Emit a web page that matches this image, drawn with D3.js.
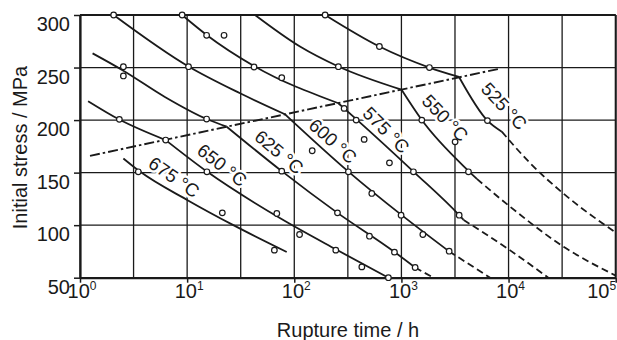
<!DOCTYPE html>
<head>
  <meta charset="utf-8">
  <script src="https://d3js.org/d3.v7.min.js"></script>
  <style>
    body { margin:0; background:#fff; }
    text { font-family: "Liberation Sans", Arial, sans-serif; fill:#1a1a1a; }
  </style>
</head>

<body>
  <script>
// rupture time [h], stress [MPa]
const yTicks = [50, 100, 150, 200, 250, 300];
const xTicks = [1, 10, 100, 1000, 10000, 100000];
const gridX = [1, 3.162, 10, 31.62, 100, 316.2, 1000, 3162, 10000, 31620, 100000];

const dashDotLine = [[1.24, 166], [8350, 249]];

const c525upper = [[194, 300], [623, 270], [1825, 250], [3450, 241]];
const c525lower = [[3450, 241], [6350, 199.5], [8650, 189]];
const c525dash = [[8650, 189], [15900, 159], [32600, 130], [100000, 93]];

const c550upper = [[43, 300], [113, 270], [258, 251], [1000, 229]];
const c550lower = [[1000, 229], [1550, 200], [4290, 151], [5060, 144]];
const c550dash = [[5060, 144], [10350, 117.5], [32600, 79.5], [100000, 52]];

const c575upper = [[8.96, 300], [15.2, 281], [42, 251.5], [258, 216]];
const c575lower = [[258, 216], [383, 200.5], [1295, 151], [3460, 109.5], [3800, 105]];
const c575dash = [[3800, 105], [10350, 76], [23500, 50]];

const c600upper = [[2.06, 300], [10.3, 251], [31.2, 225.5], [82, 205.5]];
const c600lower = [[82, 205.5], [320, 151], [993, 110], [2790, 75]];
const c600dash = [[2790, 75], [6730, 50]];

const c625upper = [[1.31, 263.5], [2.54, 247], [6.2, 222], [15.2, 201], [23.4, 193.7]];
const c625lower = [[23.4, 193.7], [76.4, 151.4], [253, 111.7], [861, 74.5], [1343, 59.7]];
const c625dash = [[1343, 59.7], [1990, 50]];

const c650upper = [[1.19, 218], [2.33, 200.5], [6.3, 181]];
const c650lower = [[6.3, 181], [15.3, 151], [74, 106.5], [244, 77], [757, 50]];

const c675 = [[2.54, 163.5], [3.63, 151], [10, 124], [27, 100], [85, 74.5]];

const measured = [
  [2.06, 300], [8.98, 300], [194, 300],
  [15.2, 280.7], [22.1, 280.7], [623, 270],
  [2.54, 250.8], [2.54, 242], [10.3, 250.8], [42.1, 250.5], [76.4, 240.3], [258, 250.8], [1825, 250],
  [2.33, 200.7], [15.2, 201], [6.31, 181],
  [292, 211.1], [378, 200], [1550, 200], [6350, 199.5],
  [449, 181.6], [3170, 179.3], [147, 170.8], [773, 159.3],
  [3.5, 150.8], [15.3, 150.8], [76.4, 151.4], [320, 150.8], [1295, 150.8], [4225, 150.8],
  [529, 130.2],
  [21.3, 111.7], [68.7, 111.1], [253, 111.7], [993, 109.5], [3460, 109.5],
  [112, 91.1], [503, 89.5], [1585, 91.1],
  [65.2, 76.2], [244, 76.2], [861, 74.3], [2790, 75.2],
  [427, 60.3], [1343, 59.7],
  [756, 50]
];

const labelText = ["675 °C", "650 °C", "625 °C", "600 °C", "575 °C", "550 °C", "525 °C"];
const labelAt = [[7.55, 145.7], [21.2, 157.1], [72.1, 169.5], [230, 180], [720, 190.5], [2560, 202], [9100, 213.3]];

const solidCurves = [c525upper, c525lower, c550upper, c550lower, c575upper, c575lower,
  c600upper, c600lower, c625upper, c625lower, c650upper, c650lower, c675];
const dashedCurves = [c525dash, c550dash, c575dash, c600dash, c625dash];

const width = 617, height = 340,
    ink = "#1a1a1a";

const x = d3.scaleLog().domain([1, 1e5]).range([80, 615.7]),
    y = d3.scaleLinear().domain([50, 300]).range([277.7, 15]);

const line = d3.line()
    .x(d => x(d[0]))
    .y(d => y(d[1]))
    .curve(d3.curveMonotoneX);

const svg = d3.select('body').append('svg')
    .attr('width', width)
    .attr('height', height);

// grid
svg.append('g').selectAll('line')
    .data(gridX)
    .enter().append('line')
    .attr('x1', d => x(d)).attr('x2', d => x(d))
    .attr('y1', y(50)).attr('y2', y(300))
    .attr('stroke', ink).attr('stroke-width', 1.3);

svg.append('g').selectAll('line')
    .data(yTicks)
    .enter().append('line')
    .attr('x1', x(1)).attr('x2', x(1e5))
    .attr('y1', d => y(d)).attr('y2', d => y(d))
    .attr('stroke', ink).attr('stroke-width', 1.3);

// frame
svg.append('line')
    .attr('x1', x(1)).attr('x2', x(1e5)).attr('y1', y(300)).attr('y2', y(300))
    .attr('stroke', ink).attr('stroke-width', 2.2);
svg.append('line')
    .attr('x1', x(1e5)).attr('x2', x(1e5)).attr('y1', y(300)).attr('y2', y(50))
    .attr('stroke', ink).attr('stroke-width', 2);

const yAxis = svg.append('g')
    .attr('transform', 'translate(' + x(1) + ',0)')
    .call(d3.axisLeft(y).tickValues(yTicks).tickSize(6).tickSizeOuter(0));
yAxis.select('.domain').attr('stroke', ink).attr('stroke-width', 2.2);
yAxis.selectAll('.tick line').attr('stroke', ink).attr('stroke-width', 1.5);
yAxis.selectAll('.tick text')
    .attr('x', -10)
    .attr('dy', 15.5)
    .attr('fill', ink)
    .style('font-size', '20px')
    .style('font-family', '"Liberation Sans", Arial, sans-serif');

const xAxis = svg.append('g')
    .attr('transform', 'translate(0,' + y(50) + ')')
    .call(d3.axisBottom(x).tickValues(xTicks).tickSize(5).tickSizeOuter(0).tickFormat(''));
xAxis.select('.domain').attr('stroke', ink).attr('stroke-width', 2.2);
xAxis.selectAll('.tick line').attr('stroke', ink).attr('stroke-width', 1.5);

const xLabels = svg.append('g').selectAll('text')
    .data(xTicks)
    .enter().append('text')
    .attr('x', d => x(d) + (d === 1e5 ? -14 : 2))
    .attr('y', 298)
    .attr('text-anchor', 'middle')
    .style('font-size', '20px');
xLabels.append('tspan').text('10');
xLabels.append('tspan')
    .attr('dy', -8)
    .style('font-size', '12px')
    .text(d => Math.round(Math.log10(d)));

// curve labels, white backing hides the grid
const labelAngle = [35, 38, 40, 42, 45, 46, 47];
svg.append('g').selectAll('text')
    .data(labelText)
    .enter().append('text')
    .attr('transform', (d, i) => 'translate(' + x(labelAt[i][0]) + ',' + y(labelAt[i][1]) + ') rotate(' + labelAngle[i] + ')')
    .attr('text-anchor', 'middle')
    .attr('dominant-baseline', 'central')
    .attr('stroke', '#fff')
    .attr('stroke-width', 5)
    .attr('stroke-linejoin', 'round')
    .attr('paint-order', 'stroke')
    .style('font-size', '18.5px')
    .text(d => d);

// curves
svg.append('path')
    .attr('d', line(dashDotLine))
    .attr('fill', 'none')
    .attr('stroke', ink)
    .attr('stroke-width', 1.9)
    .attr('stroke-dasharray', '10,3,2.5,3');

svg.append('g').selectAll('path')
    .data(solidCurves)
    .enter().append('path')
    .attr('d', line)
    .attr('fill', 'none')
    .attr('stroke', ink)
    .attr('stroke-width', 1.8);

svg.append('g').selectAll('path')
    .data(dashedCurves)
    .enter().append('path')
    .attr('d', line)
    .attr('fill', 'none')
    .attr('stroke', ink)
    .attr('stroke-width', 1.8)
    .attr('stroke-dasharray', '7,4');

svg.append('g').selectAll('circle')
    .data(measured)
    .enter().append('circle')
    .attr('cx', d => x(d[0]))
    .attr('cy', d => y(d[1]))
    .attr('r', 2.8)
    .attr('fill', '#fff')
    .attr('stroke', ink)
    .attr('stroke-width', 1.2);

// axis titles
svg.append('text')
    .attr('x', 348)
    .attr('y', 337)
    .attr('text-anchor', 'middle')
    .style('font-size', '20px')
    .text('Rupture time / h');

svg.append('text')
    .attr('transform', 'translate(27,147.5) rotate(-90)')
    .attr('text-anchor', 'middle')
    .style('font-size', '20px')
    .text('Initial stress / MPa');
  </script>
</body>
